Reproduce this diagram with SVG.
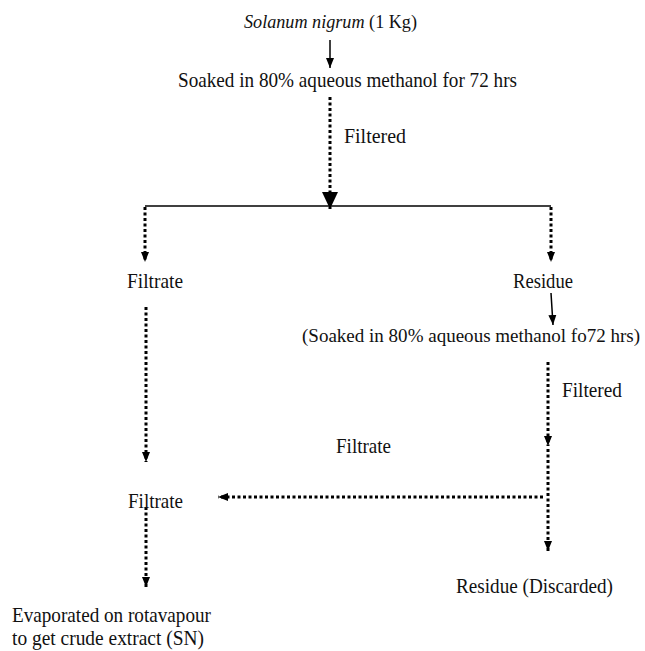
<svg xmlns="http://www.w3.org/2000/svg" width="645" height="651" viewBox="0 0 645 651">
<style>
.t{font-family:'Liberation Serif','Times New Roman',serif;font-size:21px;fill:#111}
.dot{stroke:#000;stroke-width:3;stroke-dasharray:3 2.5;fill:none}
.sol{stroke:#000;stroke-width:1.5;fill:none}
</style>
<defs>
<marker id="ah" markerUnits="userSpaceOnUse" markerWidth="12" markerHeight="12" refX="10" refY="5" orient="auto"><path d="M0,1 L10,5 L0,9 Z" fill="#000"/></marker>
<marker id="ahb" markerUnits="userSpaceOnUse" markerWidth="20" markerHeight="20" refX="17" refY="8" orient="auto"><path d="M0,0 L17,8 L0,16 Z" fill="#000"/></marker>
</defs>
<rect width="645" height="651" fill="#fff"/>
<g id="connectors">
<line class="sol" x1="330" y1="40" x2="330" y2="68" marker-end="url(#ah)"/>
<line class="dot" x1="330" y1="97" x2="330" y2="209" marker-end="url(#ahb)"/>
<line class="sol" x1="145" y1="206" x2="551" y2="206"/>
<line class="dot" x1="145" y1="207" x2="145" y2="262" marker-end="url(#ah)"/>
<line class="dot" x1="551" y1="207" x2="551" y2="262" marker-end="url(#ah)"/>
<line class="dot" x1="146" y1="307" x2="146" y2="462" marker-end="url(#ah)"/>
<line class="sol" x1="551" y1="293" x2="553" y2="325" marker-end="url(#ah)"/>
<line class="dot" x1="548" y1="362" x2="548" y2="446" marker-end="url(#ah)"/>
<line class="dot" x1="548" y1="449" x2="548" y2="551" marker-end="url(#ah)"/>
<line class="dot" x1="543" y1="497" x2="218" y2="497" marker-end="url(#ah)"/>
<line class="dot" x1="146" y1="507" x2="146" y2="587" marker-end="url(#ah)"/>
</g>
<g font-family="Liberation Serif, serif" font-size="21">
<g id="start"><text class="t" x="244" y="28" textLength="173" lengthAdjust="spacingAndGlyphs" style="font-size:18px"><tspan font-style="italic">Solanum nigrum</tspan>  (1 Kg)</text></g>
<g id="soak1"><text class="t" x="178" y="87" textLength="339" lengthAdjust="spacingAndGlyphs">Soaked in 80% aqueous methanol for 72 hrs</text></g>
<g id="filtered1"><text class="t" x="344" y="143" textLength="62" lengthAdjust="spacingAndGlyphs">Filtered</text></g>
<g id="filtrate1"><text class="t" x="127" y="288" textLength="56" lengthAdjust="spacingAndGlyphs">Filtrate</text></g>
<g id="residue1"><text class="t" x="513" y="288" textLength="60" lengthAdjust="spacingAndGlyphs">Residue</text></g>
<g id="soak2"><text class="t" x="302" y="342" textLength="338" lengthAdjust="spacingAndGlyphs" style="font-size:19px">(Soaked in 80% aqueous methanol fo72 hrs)</text></g>
<g id="filtered2"><text class="t" x="562" y="397" textLength="60" lengthAdjust="spacingAndGlyphs">Filtered</text></g>
<g id="filtrate-label"><text class="t" x="336" y="453" textLength="55" lengthAdjust="spacingAndGlyphs">Filtrate</text></g>
<g id="filtrate2"><text class="t" x="128" y="508" textLength="55" lengthAdjust="spacingAndGlyphs">Filtrate</text></g>
<g id="residue-discarded"><text class="t" x="456" y="593" textLength="157" lengthAdjust="spacingAndGlyphs">Residue (Discarded)</text></g>
<g id="evaporated"><text class="t" x="12" y="622" textLength="199" lengthAdjust="spacingAndGlyphs">Evaporated on rotavapour</text><text class="t" x="12" y="645" textLength="192" lengthAdjust="spacingAndGlyphs">to get crude extract (SN)</text></g>
</g>
</svg>
